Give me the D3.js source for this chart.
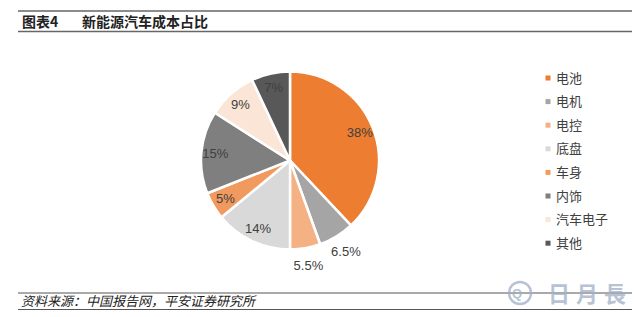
<!DOCTYPE html>
<html>
<head>
<meta charset="utf-8">
<script src="https://cdn.jsdelivr.net/npm/d3@7"></script>
<style>
  html, body { margin: 0; padding: 0; background: #fff; }
  svg { display: block; }
</style>
</head>
<body>
<svg id="chart" width="640" height="317"></svg>
<script>
// Cost breakdown of a new-energy vehicle (%)
const categories = ["电池", "电机", "电控", "底盘", "车身", "内饰", "汽车电子", "其他"];
const shares = [38, 6.5, 5.5, 14, 5, 15, 9, 7];
const valueLabels = ["38%", "6.5%", "5.5%", "14%", "5%", "15%", "9%", "7%"];
const outsideLabel = [false, true, true, false, false, false, false, false];
const colors = ["#ED7D31", "#A5A5A5", "#F4B183", "#D9D9D9", "#F19A5F", "#7F7F7F", "#FBE5D6", "#585858"];

const svg = d3.select("#chart");
const cjk = "'Noto Sans CJK SC', 'Liberation Sans', sans-serif";
const latin = "'Liberation Sans', Arial, sans-serif";

// Header rules and title
svg.append("line").attr("x1", 18).attr("x2", 632).attr("y1", 11).attr("y2", 11)
  .attr("stroke", "#666").attr("stroke-width", 1.5);
svg.append("line").attr("x1", 18).attr("x2", 632).attr("y1", 31.5).attr("y2", 31.5)
  .attr("stroke", "#666").attr("stroke-width", 1.5);
svg.append("text").attr("x", 22).attr("y", 27)
  .attr("font-family", cjk).attr("font-size", 14).attr("font-weight", "bold").attr("fill", "#222")
  .text("图表4");
svg.append("text").attr("x", 82).attr("y", 27)
  .attr("font-family", cjk).attr("font-size", 14).attr("font-weight", "bold").attr("fill", "#222")
  .text("新能源汽车成本占比");

// Pie
const cx = 290, cy = 160.5, R = 89;
const g = svg.append("g").attr("transform", `translate(${cx},${cy})`);
const data = categories.map((c, i) => ({ name: c, value: shares[i], label: valueLabels[i], out: outsideLabel[i], color: colors[i] }));
const pie = d3.pie().value(d => d.value).sort(null);
const arcs = pie(data);
const arc = d3.arc().innerRadius(0).outerRadius(R);
g.selectAll("path.slice").data(arcs).enter().append("path")
  .attr("class", "slice")
  .attr("d", arc)
  .attr("fill", d => d.data.color)
  .attr("stroke", "#fff").attr("stroke-width", 2.5).attr("stroke-linejoin", "round");

const inArc = d3.arc().innerRadius(75).outerRadius(75);
const outArc = d3.arc().innerRadius(107).outerRadius(107);
g.selectAll("text.val").data(arcs).enter().append("text")
  .attr("class", "val")
  .attr("transform", d => `translate(${(d.data.out ? outArc : inArc).centroid(d)})`)
  .attr("text-anchor", "middle").attr("dy", "0.35em")
  .attr("font-family", latin).attr("font-size", 13).attr("fill", "#404040")
  .text(d => d.data.label);

// Legend
const lg = svg.append("g").attr("transform", "translate(548,78)");
const rowH = 23.6;
const item = lg.selectAll("g").data(data).enter().append("g")
  .attr("transform", (d, i) => `translate(0,${i * rowH})`);
item.append("rect").attr("x", -2.5).attr("y", -2.5).attr("width", 5).attr("height", 5)
  .attr("fill", d => d.color);
item.append("text").attr("x", 8).attr("dy", "0.36em")
  .attr("font-family", cjk).attr("font-size", 13).attr("fill", "#404040")
  .text(d => d.name);

// Footer
svg.append("line").attr("x1", 18).attr("x2", 632).attr("y1", 293).attr("y2", 293)
  .attr("stroke", "#555").attr("stroke-width", 1);
svg.append("line").attr("x1", 18).attr("x2", 632).attr("y1", 309.5).attr("y2", 309.5)
  .attr("stroke", "#555").attr("stroke-width", 1);
svg.append("text").attr("x", 21).attr("y", 305.5)
  .attr("font-family", cjk).attr("font-size", 13).attr("font-style", "italic").attr("fill", "#222")
  .text("资料来源：中国报告网，平安证券研究所");

// Watermark
const wm = svg.append("g").attr("opacity", 0.75);
wm.append("circle").attr("cx", 520).attr("cy", 293).attr("r", 11)
  .attr("fill", "none").attr("stroke", "#9fb0c8").attr("stroke-width", 2.5);
wm.append("text").attr("x", 512).attr("y", 298).attr("font-family", latin).attr("font-size", 13)
  .attr("font-weight", "bold").attr("fill", "#9fb0c8").text("Q");
wm.append("text").attr("x", 548).attr("y", 302)
  .attr("font-family", cjk).attr("font-size", 22).attr("font-weight", "bold")
  .attr("letter-spacing", 6).attr("fill", "#9fb0c8").text("日月長");
</script>
</body>
</html>
